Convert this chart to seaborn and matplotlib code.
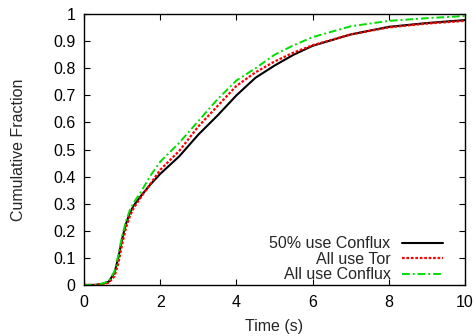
import matplotlib
matplotlib.use("Agg")
import matplotlib.pyplot as plt
import seaborn as sns
import pandas as pd

time_s = [0, 0.3, 0.5, 0.65, 0.8, 0.9, 1.0, 1.1, 1.2, 1.3, 1.5, 1.75, 2.0, 2.5, 3.0, 3.5,
          4.0, 4.5, 5.0, 5.5, 6.0, 7.0, 8.0, 9.0, 10.0]
half_conflux = [0, 0, 0.005, 0.012, 0.045, 0.10, 0.17, 0.225, 0.265, 0.292, 0.33, 0.372, 0.41,
                0.475, 0.555, 0.625, 0.70, 0.765, 0.81, 0.85, 0.883, 0.925, 0.953, 0.967, 0.978]
all_tor = [0, 0, 0.003, 0.008, 0.032, 0.08, 0.15, 0.21, 0.252, 0.283, 0.325, 0.375, 0.425,
           0.495, 0.585, 0.66, 0.735, 0.785, 0.825, 0.858, 0.885, 0.925, 0.951, 0.965, 0.975]
all_conflux = [0, 0, 0.005, 0.015, 0.05, 0.11, 0.18, 0.235, 0.275, 0.303, 0.345, 0.405, 0.455,
               0.525, 0.605, 0.685, 0.755, 0.80, 0.85, 0.885, 0.915, 0.955, 0.975, 0.985, 0.993]
series_names = ["50% use Conflux", "All use Tor", "All use Conflux"]
x_ticks = [0, 2, 4, 6, 8, 10]
y_ticks = [0, 0.1, 0.2, 0.3, 0.4, 0.5, 0.6, 0.7, 0.8, 0.9, 1]
y_tick_labels = ["0", "0.1", "0.2", "0.3", "0.4", "0.5", "0.6", "0.7", "0.8", "0.9", "1"]

sns.set_style("ticks")
plt.rcParams["font.family"] = ["Liberation Sans", "DejaVu Sans"]

fig = plt.figure(figsize=(4.76, 3.36), dpi=100)
ax = fig.add_axes([0.1765, 0.152, 0.8005, 0.806])

styles = [
    dict(color="black", linestyle="-", linewidth=1.5),
    dict(color="#ff0000", linestyle=(0, (1.2, 0.8)), linewidth=1.6),
    dict(color="#00dd00", linestyle=(0, (4, 1.5, 1, 1.5)), linewidth=1.4),
]
for name, vals, st in zip(series_names, [half_conflux, all_tor, all_conflux], styles):
    df = pd.DataFrame({"t": time_s, "f": vals})
    sns.lineplot(data=df, x="t", y="f", ax=ax, label=name, **st)

fs = 11.5
ax.set_xlim(0, 10)
ax.set_ylim(0, 1)
ax.set_xticks(x_ticks)
ax.set_xticklabels([str(v) for v in x_ticks])
ax.set_yticks(y_ticks)
ax.set_yticklabels(y_tick_labels)
ax.tick_params(direction="in", top=True, right=True, length=4, width=0.8,
               labelsize=fs, colors="black")
ax.tick_params(axis="x", pad=7)
ax.tick_params(axis="y", pad=6)
for s in ax.spines.values():
    s.set_visible(True)
    s.set_linewidth(1.0)
    s.set_color("black")
ax.set_xlabel("Time (s)", fontsize=fs, labelpad=7)
ax.set_ylabel("Cumulative Fraction", fontsize=fs, labelpad=20)

leg = ax.legend(loc="lower right", frameon=False, markerfirst=False, fontsize=fs,
                handlelength=2.6, handletextpad=0.7, labelspacing=0.03,
                bbox_to_anchor=(0.968, -0.025), borderaxespad=0.2)
for t in leg.get_texts():
    t.set_ha("right")
leg._legend_box.align = "right"

fig.savefig("out.png", dpi=100)
